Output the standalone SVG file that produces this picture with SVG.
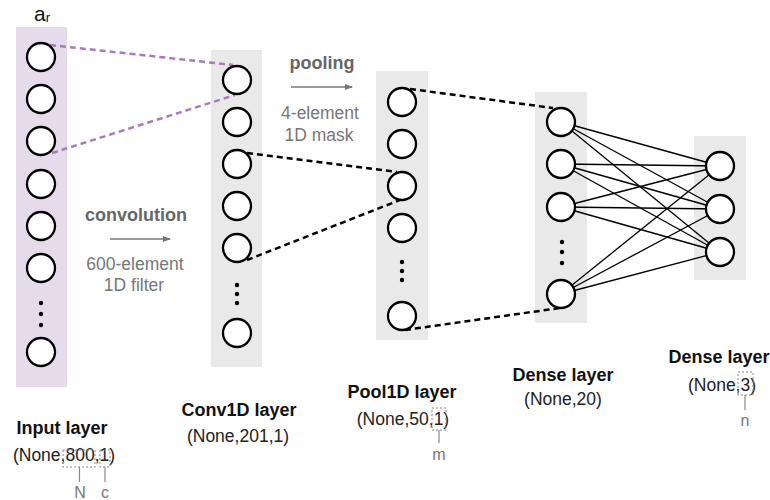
<svg xmlns="http://www.w3.org/2000/svg" width="770" height="500" viewBox="0 0 770 500">
<style>
text{font-family:"Liberation Sans",Arial,sans-serif;}
.bold{font-weight:bold;font-size:18px;fill:#111;text-anchor:middle;}
.reg{font-size:17.5px;fill:#222;text-anchor:middle;}
.gbold{font-weight:bold;font-size:18px;fill:#666;text-anchor:middle;}
.greg{font-size:17.5px;fill:#777;text-anchor:middle;}
.small{font-size:16px;fill:#777;text-anchor:middle;}
.node{fill:#fff;stroke:#000;stroke-width:2.3;}
.dot{fill:#000;}
.bg{fill:#e9e9e9;}
.dash{fill:none;stroke:#000;stroke-width:2.5;stroke-dasharray:6,4;}
.pdash{fill:none;stroke:#a87cbb;stroke-width:2.5;stroke-dasharray:6,4;}
.full{stroke:#000;stroke-width:1.3;}
.box{fill:none;stroke:#888;stroke-width:1;stroke-dasharray:2,2;}
.tick{stroke:#888;stroke-width:1.2;}
.arr{stroke:#777;stroke-width:1.5;marker-end:url(#ah);}
</style>
<defs>
<marker id="ah" markerWidth="8" markerHeight="8" refX="7" refY="4" orient="auto" markerUnits="userSpaceOnUse">
<path d="M0,1 L8,4 L0,7 Z" fill="#777"/>
</marker>
</defs>
<rect width="770" height="500" fill="#fff"/>

<g id="backgrounds">
<rect x="16" y="27" width="51" height="360" fill="#e6dbeb"/>
<rect class="bg" x="211" y="50" width="51" height="317"/>
<rect class="bg" x="376" y="71" width="52" height="269"/>
<rect class="bg" x="535" y="92" width="52" height="231"/>
<rect class="bg" x="694" y="136" width="52" height="144"/>
</g>

<g id="connectors">
<line class="pdash" x1="50" y1="45" x2="233" y2="65"/>
<line class="pdash" x1="52" y1="153" x2="235" y2="95"/>
<line class="dash" x1="247" y1="153" x2="397" y2="172"/>
<line class="dash" x1="247" y1="260" x2="400" y2="200"/>
<line class="dash" x1="410" y1="89" x2="553" y2="108"/>
<line class="dash" x1="405" y1="330" x2="560" y2="308"/>
<g class="full">
<line x1="561" y1="122" x2="720" y2="166"/><line x1="561" y1="122" x2="720" y2="209"/><line x1="561" y1="122" x2="720" y2="252"/>
<line x1="561" y1="164" x2="720" y2="166"/><line x1="561" y1="164" x2="720" y2="209"/><line x1="561" y1="164" x2="720" y2="252"/>
<line x1="561" y1="207" x2="720" y2="166"/><line x1="561" y1="207" x2="720" y2="209"/><line x1="561" y1="207" x2="720" y2="252"/>
<line x1="561" y1="294" x2="720" y2="166"/><line x1="561" y1="294" x2="720" y2="209"/><line x1="561" y1="294" x2="720" y2="252"/>
</g>
<line class="arr" x1="110" y1="239" x2="170" y2="239"/>
<line class="arr" x1="291" y1="87" x2="352" y2="87"/>
</g>

<g id="input-layer">
<text x="34" y="21" style="font-size:21px;fill:#111">a<tspan font-size="13" dy="1">r</tspan></text>
<circle class="node" cx="41" cy="57" r="14"/>
<circle class="node" cx="41" cy="99" r="14"/>
<circle class="node" cx="41" cy="141" r="14"/>
<circle class="node" cx="41" cy="184" r="14"/>
<circle class="node" cx="41" cy="226" r="14"/>
<circle class="node" cx="41" cy="268" r="14"/>
<circle class="dot" cx="41" cy="303" r="2.2"/><circle class="dot" cx="41" cy="314" r="2.2"/><circle class="dot" cx="41" cy="325" r="2.2"/>
<circle class="node" cx="41" cy="352" r="14"/>
<text class="bold" x="62" y="434">Input layer</text>
<text class="reg" x="64" y="461">(None,800,1)</text>
<rect class="box" x="63" y="450" width="32" height="17"/>
<rect class="box" x="100" y="450" width="10" height="17"/>
<line class="tick" x1="79.5" y1="467" x2="79.5" y2="482"/>
<line class="tick" x1="105" y1="467" x2="105" y2="482"/>
<text class="small" x="80" y="498">N</text>
<text class="small" x="105" y="498">c</text>
</g>

<g id="conv-label">
<text class="gbold" x="136" y="221">convolution</text>
<text class="greg" x="135" y="270">600-element</text>
<text class="greg" x="134" y="291">1D filter</text>
</g>

<g id="conv1d-layer">
<circle class="node" cx="237" cy="80" r="14"/>
<circle class="node" cx="237" cy="122" r="14"/>
<circle class="node" cx="237" cy="164" r="14"/>
<circle class="node" cx="237" cy="206" r="14"/>
<circle class="node" cx="237" cy="248" r="14"/>
<circle class="dot" cx="237" cy="285" r="2.2"/><circle class="dot" cx="237" cy="294" r="2.2"/><circle class="dot" cx="237" cy="303" r="2.2"/>
<circle class="node" cx="237" cy="333" r="14"/>
<text class="bold" x="239" y="416">Conv1D layer</text>
<text class="reg" x="238" y="442">(None,201,1)</text>
</g>

<g id="pool-label">
<text class="gbold" x="322" y="69">pooling</text>
<text class="greg" x="320" y="119">4-element</text>
<text class="greg" x="319" y="141">1D mask</text>
</g>

<g id="pool1d-layer">
<circle class="node" cx="402" cy="102" r="14"/>
<circle class="node" cx="402" cy="144" r="14"/>
<circle class="node" cx="402" cy="186" r="14"/>
<circle class="node" cx="402" cy="228" r="14"/>
<circle class="dot" cx="402" cy="262" r="2.2"/><circle class="dot" cx="402" cy="271" r="2.2"/><circle class="dot" cx="402" cy="280" r="2.2"/>
<circle class="node" cx="402" cy="316" r="14"/>
<text class="bold" x="402" y="398">Pool1D layer</text>
<text class="reg" x="403" y="425">(None,50,1)</text>
<rect class="box" x="432" y="408" width="14" height="22"/>
<line class="tick" x1="439" y1="430" x2="439" y2="443"/>
<text class="small" x="439" y="460">m</text>
</g>

<g id="dense20-layer">
<circle class="node" cx="561" cy="122" r="14"/>
<circle class="node" cx="561" cy="164" r="14"/>
<circle class="node" cx="561" cy="207" r="14"/>
<circle class="dot" cx="562" cy="242" r="2.2"/><circle class="dot" cx="562" cy="252" r="2.2"/><circle class="dot" cx="562" cy="263" r="2.2"/>
<circle class="node" cx="561" cy="294" r="14"/>
<text class="bold" x="563" y="381">Dense layer</text>
<text class="reg" x="563" y="405">(None,20)</text>
</g>

<g id="dense3-layer">
<circle class="node" cx="720" cy="166" r="14"/>
<circle class="node" cx="720" cy="209" r="14"/>
<circle class="node" cx="720" cy="252" r="14"/>
<text class="bold" x="719" y="363">Dense layer</text>
<text class="reg" x="722" y="391">(None,3)</text>
<rect class="box" x="738" y="372" width="15" height="23"/>
<line class="tick" x1="745" y1="395" x2="745" y2="410"/>
<text class="small" x="745" y="426">n</text>
</g>
</svg>
